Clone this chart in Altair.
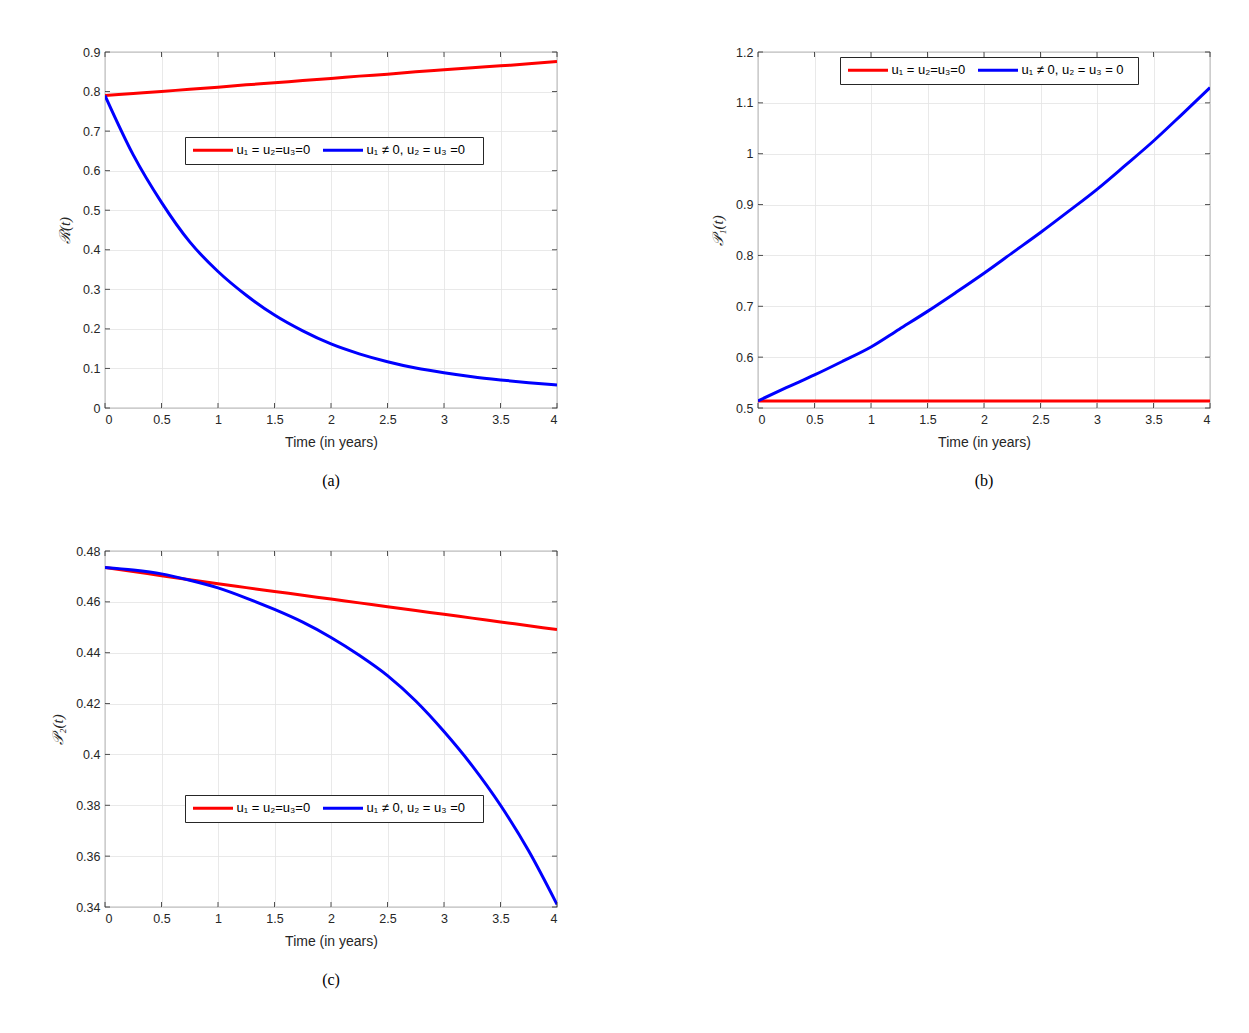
import altair as alt
import pandas as pd

# Time grid (years)
t = [0, 0.25, 0.5, 0.75, 1, 1.25, 1.5, 1.75, 2, 2.25, 2.5, 2.75, 3, 3.25, 3.5, 3.75, 4]

# (a) R(t)
a_none = [0.790, 0.795, 0.800, 0.806, 0.811, 0.817, 0.822, 0.828, 0.833, 0.839, 0.844, 0.850, 0.855, 0.860, 0.865, 0.870, 0.876]
a_u1 = [0.790, 0.640, 0.520, 0.420, 0.345, 0.285, 0.235, 0.195, 0.162, 0.137, 0.117, 0.101, 0.089, 0.079, 0.071, 0.064, 0.058]

# (b) P1(t)
b_none = [0.514] * 17
b_u1 = [0.514, 0.540, 0.565, 0.592, 0.620, 0.655, 0.690, 0.727, 0.765, 0.805, 0.845, 0.887, 0.930, 0.977, 1.025, 1.077, 1.130]

# (c) P2(t)
c_none = [0.4735, 0.4719, 0.4703, 0.4687, 0.4671, 0.4656, 0.4641, 0.4626, 0.4611, 0.4596, 0.4581, 0.4566, 0.4551, 0.4536, 0.4521, 0.4506, 0.4491]
c_u1 = [0.4735, 0.4725, 0.4710, 0.4685, 0.4655, 0.4615, 0.4570, 0.4520, 0.4460, 0.4390, 0.4310, 0.4210, 0.4090, 0.3955, 0.3800, 0.3620, 0.3410]

x_ticks = [0, 0.5, 1, 1.5, 2, 2.5, 3, 3.5, 4]
a_yticks = [0, 0.1, 0.2, 0.3, 0.4, 0.5, 0.6, 0.7, 0.8, 0.9]
b_yticks = [0.5, 0.6, 0.7, 0.8, 0.9, 1.0, 1.1, 1.2]
c_yticks = [0.34, 0.36, 0.38, 0.40, 0.42, 0.44, 0.46, 0.48]

LABEL_NONE = "u₁ = u₂=u₃=0"
LABEL_U1 = "u₁  ≠  0,  u₂ = u₃ =0"
LABEL_U1_B = "u₁  ≠  0, u₂ = u₃ = 0"

W, H = 452, 356
AX = "#262626"
SANS = "Liberation Sans"
SERIF = "Liberation Serif"


def panel(none_vals, u1_vals, u1_label, ydomain, yticks, ytitle, caption, lx, ly):
    n = len(t)
    df = pd.DataFrame({
        "t": t + t,
        "v": none_vals + u1_vals,
        "s": [LABEL_NONE] * n + [u1_label] * n,
    })
    x_enc = alt.X("t:Q", scale=alt.Scale(domain=[0, 4], nice=False, zero=False),
                  axis=alt.Axis(values=x_ticks, format="~g", title="Time (in years)",
                                titlePadding=10))
    y_enc = alt.Y("v:Q", scale=alt.Scale(domain=ydomain, nice=False, zero=False),
                  axis=alt.Axis(values=yticks, format="~g", title=ytitle,
                                titleFont=SERIF, titleFontStyle="italic",
                                titleFontSize=15, titlePadding=10))

    lines = alt.Chart(df).mark_line(strokeWidth=3, interpolate="monotone", clip=True).encode(
        x=x_enc, y=y_enc,
        color=alt.Color("s:N",
                        scale=alt.Scale(domain=[LABEL_NONE, u1_label], range=["#ff0000", "#0000ff"]),
                        legend=alt.Legend(orient="none", legendX=lx, legendY=ly,
                                          direction="horizontal", title=None,
                                          symbolType="M-4,0H4", symbolSize=100,
                                          symbolStrokeWidth=3, symbolOffset=15,
                                          labelFont=SANS, labelFontSize=13,
                                          labelColor="black", labelOffset=17,
                                          strokeColor=AX, fillColor="white",
                                          padding=6.5, columnPadding=6)),
        order=alt.Order("t:Q"),
    )

    xt = pd.DataFrame({"t": x_ticks})
    yt = pd.DataFrame({"v": yticks})
    tick = dict(color=AX, strokeWidth=0.8)
    bottom = alt.Chart(xt).mark_rule(**tick).encode(x=x_enc, y=alt.value(H), y2=alt.value(H - 5))
    top = alt.Chart(xt).mark_rule(**tick).encode(x=x_enc, y=alt.value(0), y2=alt.value(5))
    left = alt.Chart(yt).mark_rule(**tick).encode(y=y_enc, x=alt.value(0), x2=alt.value(5))
    right = alt.Chart(yt).mark_rule(**tick).encode(y=y_enc, x=alt.value(W), x2=alt.value(W - 5))

    return alt.layer(lines, bottom, top, left, right).properties(
        width=W, height=H,
        title=alt.Title(caption, orient="bottom", font=SERIF, fontSize=16,
                        fontWeight="normal", color="black", offset=23, anchor="middle"),
    )


pa = panel(a_none, a_u1, LABEL_U1, [0, 0.9], a_yticks, "ℛ(t)", "(a)", 80, 85)
pb = panel(b_none, b_u1, LABEL_U1_B, [0.5, 1.2], b_yticks, "𝒫₁(t)", "(b)", 82, 5)
pc = panel(c_none, c_u1, LABEL_U1, [0.34, 0.48], c_yticks, "𝒫₂(t)", "(c)", 80, 244)

chart = alt.vconcat(
    alt.hconcat(pa, pb, spacing=152).resolve_scale(color="independent"),
    pc,
    spacing=55,
).resolve_scale(color="independent").properties(
    padding={"left": 50, "top": 45, "right": 5, "bottom": 5},
    background="white",
).configure_view(
    stroke=AX, strokeWidth=0.8,
).configure_axis(
    domain=False, ticks=False, grid=True, gridColor="#e3e3e3", gridWidth=0.8,
    labelFont=SANS, labelFontSize=12.5, labelColor=AX, labelPadding=5,
    titleFont=SANS, titleFontSize=14, titleColor=AX, titleFontWeight="normal",
).configure_title(
    font=SERIF,
)

chart.save("out.html", embed_options={"renderer": "svg", "actions": False})
